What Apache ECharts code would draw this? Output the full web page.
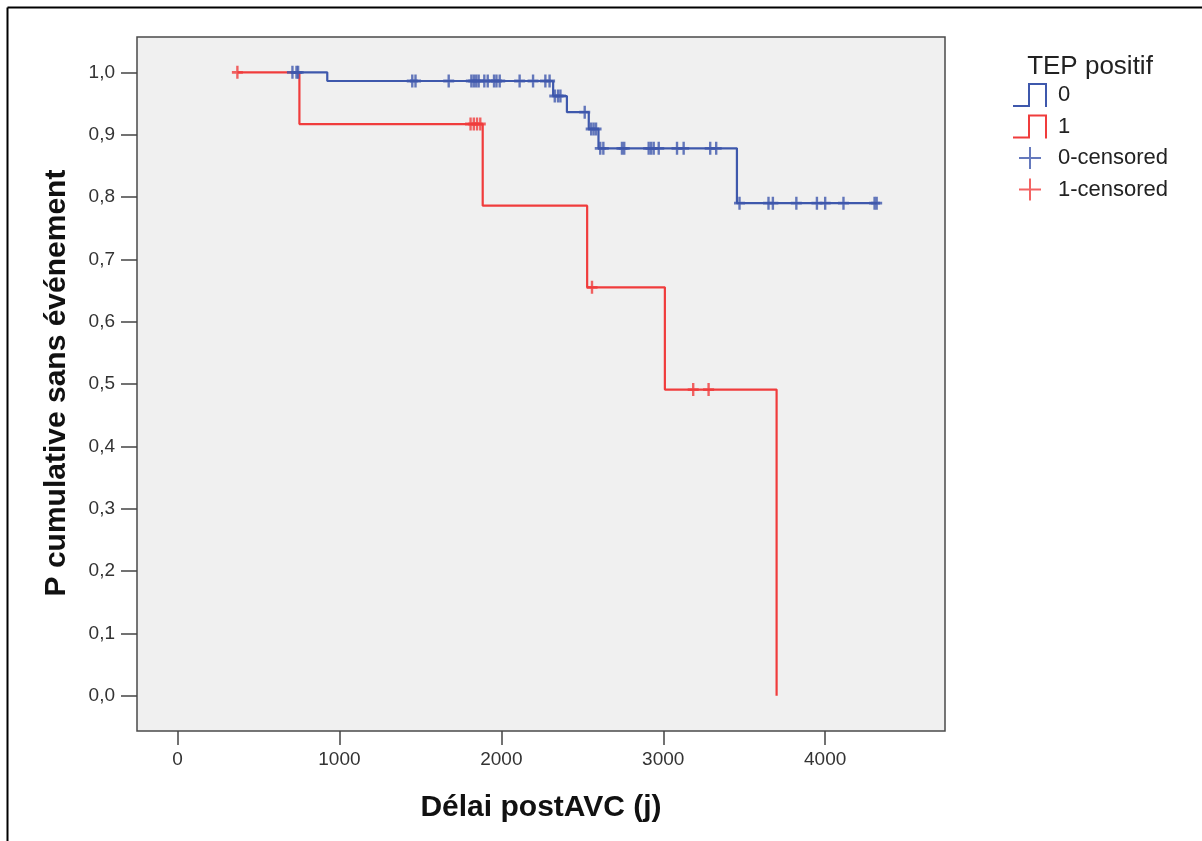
<!DOCTYPE html>
<html>
<head>
<meta charset="utf-8">
<script src="https://cdn.jsdelivr.net/npm/echarts@6/dist/echarts.min.js"></script>
<style>
html,body{margin:0;padding:0;background:#fff;}
#chart{width:1202px;height:841px;}
</style>
</head>
<body>
<div id="chart"></div>
<script>
// ---- data ----
const xTicks = [0, 1000, 2000, 3000, 4000];
const yTicks = [0, 0.1, 0.2, 0.3, 0.4, 0.5, 0.6, 0.7, 0.8, 0.9, 1.0];
const groupNames = ['0', '1', '0-censored', '1-censored'];
// Kaplan-Meier steps [time, survival after time]
const steps0 = [[700, 1.0], [925, 0.986], [2320, 0.962], [2405, 0.936], [2540, 0.909], [2600, 0.878], [3455, 0.790], [4320, 0.790]];
const steps1 = [[370, 1.0], [753, 0.917], [1885, 0.786], [2530, 0.655], [3010, 0.491], [3700, 0.0]];
// censored times
const cens0 = [710, 735, 745, 1450, 1470, 1675, 1815, 1830, 1845, 1860, 1895, 1916, 1955, 1970, 1990, 2113, 2196, 2272, 2298,
  2330, 2350, 2365, 2515, 2555, 2570, 2585, 2611, 2630, 2745, 2759, 2910, 2925, 2941, 2972, 3085, 3126, 3290, 3327,
  3471, 3650, 3677, 3822, 3949, 4000, 4113, 4305, 4318];
const cens1 = [370, 1810, 1830, 1850, 1870, 2560, 3185, 3280];

function survAt(steps, t) {
  let s = steps[0][1];
  for (const p of steps) { if (p[0] <= t) s = p[1]; }
  return s;
}

const blue = '#3e58ac';
const red = '#f03c3c';
const font = "'Liberation Sans', Arial, sans-serif";
const stepIcon = 'path://M0,22H15V0H34V24H32V2H17V24H0Z';
const plusIcon = 'path://M0,0L0.01,0L0,0.01Z M34,24L33.99,24L34,23.99Z M16,1H18V23H16Z M6,11H28V13H6Z';
const plusMark = 'path://M4.7,0H7.3V12H4.7Z M0,4.7H12V7.3H0Z';

const chart = echarts.init(document.getElementById('chart'), null, {renderer: 'canvas'});
chart.setOption({
  animation: false,
  backgroundColor: '#ffffff',
  grid: {left: 137, top: 37, right: 257, bottom: 110, show: true, backgroundColor: '#f0f0f0', borderColor: '#4a4a4a', borderWidth: 1.5},
  xAxis: {
    type: 'value', min: -250, max: 4740,
    axisLine: {show: false, onZero: false},
    splitLine: {show: false},
    axisTick: {show: true, inside: false, length: 14, customValues: xTicks, lineStyle: {color: '#444', width: 1.5}},
    axisLabel: {customValues: xTicks, margin: 19, fontFamily: font, fontSize: 19, color: '#333',
      formatter: v => String(v)}
  },
  yAxis: {
    type: 'value', min: -0.0566, max: 1.0566,
    axisLine: {show: false, onZero: false},
    splitLine: {show: false},
    axisTick: {show: true, inside: false, length: 16, customValues: yTicks, lineStyle: {color: '#444', width: 1.5}},
    axisLabel: {customValues: yTicks, margin: 22, fontFamily: font, fontSize: 19, color: '#333',
      formatter: v => v.toFixed(1).replace('.', ',')}
  },
  legend: {
    orient: 'vertical', left: 1013, top: 83, padding: 0, itemGap: 7.5,
    itemWidth: 34, itemHeight: 24,
    textStyle: {fontFamily: font, fontSize: 22, color: '#222', padding: [0, 0, 0, 6]},
    data: [
      {name: groupNames[0], icon: stepIcon, itemStyle: {color: blue, borderWidth: 0}},
      {name: groupNames[1], icon: stepIcon, itemStyle: {color: red, borderWidth: 0}},
      {name: groupNames[2], icon: plusIcon, itemStyle: {color: blue, borderWidth: 0}},
      {name: groupNames[3], icon: plusIcon, itemStyle: {color: red, borderWidth: 0}}
    ]
  },
  graphic: [
    {type: 'line', shape: {x1: 7.5, y1: 7.5, x2: 1202, y2: 7.5}, style: {stroke: '#000', lineWidth: 2}},
    {type: 'line', shape: {x1: 7.5, y1: 7.5, x2: 7.5, y2: 841}, style: {stroke: '#000', lineWidth: 2}},
    {type: 'text', x: 541, y: 808, style: {text: 'Délai postAVC (j)', font: 'bold 30px ' + font, fill: '#111', align: 'center', verticalAlign: 'middle'}},
    {type: 'text', x: 57, y: 383, rotation: Math.PI / 2, style: {text: 'P cumulative sans événement', font: 'bold 30px ' + font, fill: '#111', align: 'center', verticalAlign: 'middle'}},
    {type: 'text', x: 1090, y: 67, style: {text: 'TEP positif', font: '26px ' + font, fill: '#222', align: 'center', verticalAlign: 'middle'}}
  ],
  series: [
    {name: groupNames[0], type: 'line', step: 'end', data: steps0, showSymbol: false, symbol: 'none',
      lineStyle: {color: blue, width: 2.2}, itemStyle: {color: blue}, z: 3},
    {name: groupNames[1], type: 'line', step: 'end', data: steps1, showSymbol: false, symbol: 'none',
      lineStyle: {color: red, width: 2.2}, itemStyle: {color: red}, z: 2},
    {name: groupNames[2], type: 'scatter', data: cens0.map(t => [t, survAt(steps0, t)]),
      symbol: plusMark, symbolSize: [11, 13], itemStyle: {color: blue}, z: 4},
    {name: groupNames[3], type: 'scatter', data: cens1.map(t => [t, survAt(steps1, t)]),
      symbol: plusMark, symbolSize: [11, 13], itemStyle: {color: red}, z: 4}
  ]
});
</script>
</body>
</html>
